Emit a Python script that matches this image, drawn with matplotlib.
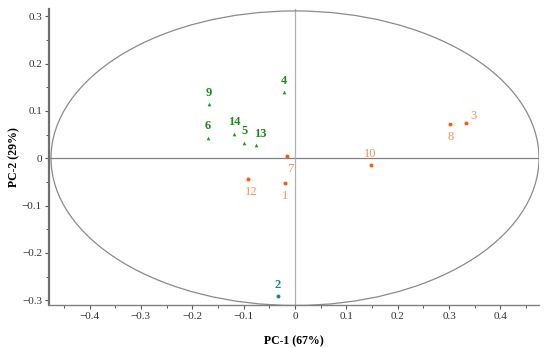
import matplotlib
matplotlib.use("Agg")
import matplotlib.pyplot as plt
from matplotlib.patches import Ellipse
from matplotlib.ticker import MultipleLocator

plt.rcParams['font.family'] = ['Liberation Serif', 'DejaVu Serif']

# Data
green_labels = ['9', '6', '14', '5', '13', '4']
green_x = [-0.167, -0.170, -0.118, -0.099, -0.075, -0.021]
green_y = [0.114, 0.043, 0.052, 0.033, 0.027, 0.139]

orange_labels = ['7', '10', '8', '3', '12', '1']
orange_x = [-0.015, 0.147, 0.302, 0.332, -0.091, -0.019]
orange_y = [0.004, -0.015, 0.072, 0.074, -0.044, -0.053]

teal_labels = ['2']
teal_x = [-0.033]
teal_y = [-0.290]

ellipse_w = 0.475
ellipse_h = 0.311

xticks = [-0.4, -0.3, -0.2, -0.1, 0, 0.1, 0.2, 0.3, 0.4]
yticks = [-0.3, -0.2, -0.1, 0, 0.1, 0.2, 0.3]

fig = plt.figure(figsize=(5.5, 3.48), dpi=100)
ax = fig.add_axes([0.089, 0.1236, 0.891, 0.8504])

ax.axhline(0, color='#808080', lw=0.9, zorder=1)
ax.axvline(0, color='#b0b0b0', lw=0.9, zorder=1)
ax.add_patch(Ellipse((0, 0), 2 * ellipse_w, 2 * ellipse_h, fill=False,
                     edgecolor='#8a8a8a', lw=0.9, zorder=1))

gc, gt = '#1a9a1a', '#1a8c1a'
oc, ot = '#ff5a00', '#f59050'
tc = '#138a8a'

ax.scatter(green_x, green_y, marker='^', s=7, color=gc, zorder=3, linewidths=0)
ax.scatter(orange_x, orange_y, marker='o', s=8, color=oc, zorder=3, linewidths=0)
ax.scatter(teal_x, teal_y, marker='o', s=8, color=tc, zorder=3, linewidths=0)

# label offsets in points
g_off = {'9': (0, 4), '6': (0, 4), '14': (0, 4), '5': (0, 4), '13': (3, 4), '4': (0, 4)}
o_off = {'7': (2, -5), '10': (0, 4), '8': (0, -5), '3': (6, 1), '12': (2, -5), '1': (0, -5)}

for lab, x, y in zip(green_labels, green_x, green_y):
    dx, dy = g_off[lab]
    ax.annotate(lab, (x, y), xytext=(dx, dy), textcoords='offset points',
                ha='center', va='bottom', color=gt, fontsize=9, fontweight='bold')
for lab, x, y in zip(orange_labels, orange_x, orange_y):
    dx, dy = o_off[lab]
    va = 'bottom' if dy > 0 else 'top'
    if lab == '3':
        va = 'bottom'
    ax.annotate(lab, (x, y), xytext=(dx, dy), textcoords='offset points',
                ha='center', va=va, color=ot, fontsize=9)
for lab, x, y in zip(teal_labels, teal_x, teal_y):
    ax.annotate(lab, (x, y), xytext=(0, 3), textcoords='offset points',
                ha='center', va='bottom', color=tc, fontsize=9, fontweight='bold')

ax.set_xlim(-0.479, 0.475)
ax.set_ylim(-0.31, 0.315)
ax.set_xticks(xticks)
ax.set_yticks(yticks)
ax.set_xticklabels([('%g' % t).replace('-', '\u2212') for t in xticks])
ax.set_yticklabels([('%g' % t).replace('-', '\u2212') for t in yticks])
ax.xaxis.set_minor_locator(MultipleLocator(0.05))
ax.yaxis.set_minor_locator(MultipleLocator(0.05))
ax.tick_params(axis='both', which='major', labelsize=8, length=3, width=0.8,
               color='#555555', direction='out', labelcolor='#333333', pad=2)
ax.tick_params(axis='both', which='minor', length=2, width=0.7, color='#555555')

for s in ['top', 'right']:
    ax.spines[s].set_visible(False)
ax.spines['left'].set_color('#707070')
ax.spines['left'].set_linewidth(1.6)
ax.spines['bottom'].set_color('#808080')
ax.spines['bottom'].set_linewidth(1.0)

ax.set_xlabel('PC-1 (67%)', fontsize=8.5, fontweight='bold', labelpad=10)
ax.set_ylabel('PC-2 (29%)', fontsize=8.5, fontweight='bold', labelpad=1)

fig.savefig('out.png', dpi=100)
